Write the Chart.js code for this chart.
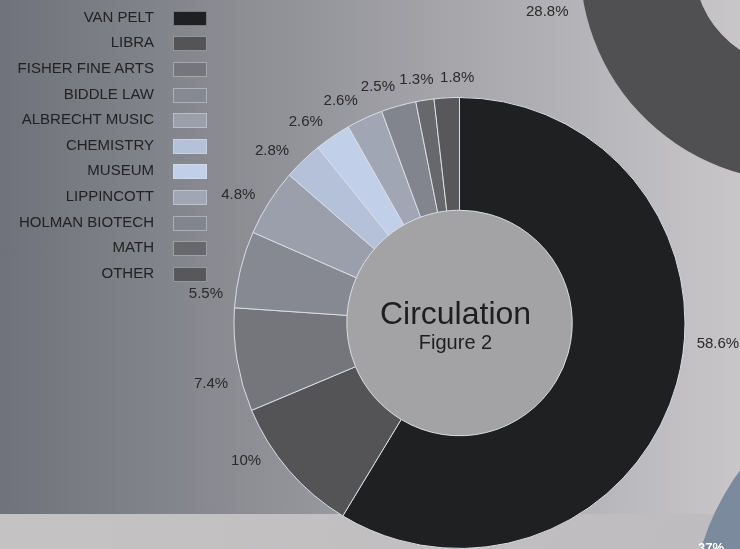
<!DOCTYPE html>
<html>
<head>
<meta charset="utf-8">
<title>Circulation - Figure 2</title>
<script src="https://cdn.jsdelivr.net/npm/chart.js@4.4.1/dist/chart.umd.min.js"></script>
<style>
    html, body {
        margin: 0;
        padding: 0;
        overflow: hidden;
    }

    #stage {
        position: relative;
        width: 740px;
        height: 549px;
        overflow: hidden;
        background: linear-gradient(to right, #6f727a 0%, #c8c6c9 100%);
        font-family: 'Liberation Sans', Arial, Helvetica, sans-serif;
    }

    .band {
        position: absolute;
        left: 0;
        top: 514px;
        width: 740px;
        height: 35px;
        background: linear-gradient(100deg, #c4c2c3, #bebcbe);
    }

    .chart-box {
        position: absolute;
    }

    .chart-box canvas {
        display: block;
    }

    #legend {
        position: absolute;
        left: 0;
        top: 5.5px;
        width: 208px;
    }

    .legend-row {
        display: flex;
        justify-content: flex-end;
        align-items: center;
        height: 25.6px;
    }

    .legend-row span {
        position: relative;
        top: -2px;
        font-size: 15px;
        color: #222;
    }

    .legend-row i {
        width: 32px;
        height: 13px;
        margin: 0 1px 0 19px;
        border: 1px solid rgba(225, 228, 235, 0.45);
    }

    .side-label {
        position: absolute;
        font-size: 15px;
        color: #2a2a2a;
    }
</style>
</head>
<body>
<div id="stage">
    <div class="band"></div>

    <div class="chart-box" style="left: 580px; top: -255px;">
        <canvas id="fig1-chart" width="436" height="436"></canvas>
    </div>
    <div class="chart-box" style="left: 691px; top: 369px;">
        <canvas id="fig3-chart" width="500" height="500"></canvas>
    </div>

    <div class="chart-box" style="left: 0; top: 0;">
        <canvas id="circ-chart" width="740" height="549"></canvas>
    </div>

    <div id="legend"></div>

    <div class="side-label" style="left: 526px; top: 2px;">28.8%</div>
    <div class="side-label" style="left: 698px; top: 540px; color: #fff; font-size: 13px; font-weight: bold;">37%</div>
</div>

<script>
    const branches = ['VAN PELT', 'LIBRA', 'FISHER FINE ARTS', 'BIDDLE LAW', 'ALBRECHT MUSIC', 'CHEMISTRY',
        'MUSEUM', 'LIPPINCOTT', 'HOLMAN BIOTECH', 'MATH', 'OTHER'];
    const circulationShare = [58.6, 10, 7.4, 5.5, 4.8, 2.8, 2.6, 2.6, 2.5, 1.3, 1.8];
    const branchColors = ['#1f2021', '#545456', '#75767b', '#868892', '#9a9fab', '#b4c1d8',
        '#c2cfe8', '#a0a6b3', '#82848e', '#67686c', '#58585b'];
    // how far each percentage label is turned away from its slice middle, in degrees
    const labelShiftDeg = [-11, 8, -4.3, -7.2, -2.2, -3.4, -3.1, -3.3, -3.4, -1.2, 2.7];

    // neighbouring figures that are cut by the page edge
    const figureOneShare = [28.8, 71.2];
    const figureThreeShare = [37, 63];

    const FONT = "'Liberation Sans', Arial, Helvetica, sans-serif";

    const circulationDecor = {
        id: 'circulationDecor',
        beforeDatasetsDraw(chart) {
            const arc = chart.getDatasetMeta(0).data[0];
            if (!arc) {
                return;
            }
            const { x, y, innerRadius } = arc.getProps(['x', 'y', 'innerRadius'], true);
            const ctx = chart.ctx;
            ctx.save();
            ctx.beginPath();
            ctx.arc(x, y, innerRadius, 0, Math.PI * 2);
            ctx.fillStyle = '#a3a3a6';
            ctx.fill();
            ctx.restore();
        },
        afterDatasetsDraw(chart) {
            const ctx = chart.ctx;
            const meta = chart.getDatasetMeta(0);
            const values = chart.data.datasets[0].data;

            ctx.save();
            ctx.font = `15px ${FONT}`;
            ctx.fillStyle = '#2a2a2a';
            ctx.textAlign = 'center';
            ctx.textBaseline = 'middle';

            meta.data.forEach((arc, i) => {
                const p = arc.getProps(['x', 'y', 'startAngle', 'endAngle', 'outerRadius'], true);
                const mid = (p.startAngle + p.endAngle) / 2 + (labelShiftDeg[i] || 0) * Math.PI / 180;
                const text = `${values[i]}%`;
                const w = ctx.measureText(text).width;
                const r = p.outerRadius + 12 + (w / 2) * Math.abs(Math.cos(mid)) + 7 * Math.abs(Math.sin(mid));
                ctx.fillText(text, p.x + Math.cos(mid) * r, p.y + Math.sin(mid) * r);
            });

            const first = meta.data[0];
            if (first) {
                const { x, y } = first.getProps(['x', 'y'], true);
                ctx.fillStyle = '#1e1e1e';
                ctx.textBaseline = 'alphabetic';
                ctx.font = `32px ${FONT}`;
                ctx.fillText('Circulation', x - 4, y + 1);
                ctx.font = `20px ${FONT}`;
                ctx.fillText('Figure 2', x - 4, y + 26);
            }
            ctx.restore();
        },
    };

    const staticOptions = (extra) => ({
        responsive: false,
        animation: false,
        events: [],
        plugins: {
            legend: { display: false },
            tooltip: { enabled: false },
        },
        ...extra,
    });

    const circulationChart = new Chart(document.getElementById('circ-chart'), {
        type: 'doughnut',
        data: {
            labels: branches,
            datasets: [{
                data: circulationShare,
                backgroundColor: branchColors,
                borderColor: '#d9dde5',
                borderWidth: 1,
            }],
        },
        options: staticOptions({
            cutout: '50%',
            layout: {
                padding: { left: 233, right: 54, top: 97, bottom: 0 },
            },
        }),
        plugins: [circulationDecor],
    });

    new Chart(document.getElementById('fig1-chart'), {
        type: 'doughnut',
        data: {
            labels: ['Figure 1 share', 'rest'],
            datasets: [{
                data: figureOneShare,
                backgroundColor: ['#505052', '#8d97a6'],
                borderWidth: 0,
            }],
        },
        options: staticOptions({ cutout: '48%', rotation: 175 }),
    });

    new Chart(document.getElementById('fig3-chart'), {
        type: 'doughnut',
        data: {
            labels: ['Figure 3 share', 'rest'],
            datasets: [{
                data: figureThreeShare,
                backgroundColor: ['#7b8a9c', '#5a5c60'],
                borderWidth: 0,
            }],
        },
        options: staticOptions({ cutout: '50%', rotation: 200 }),
    });

    const legend = document.getElementById('legend');
    const ds = circulationChart.data.datasets[0];
    circulationChart.data.labels.forEach((label, i) => {
        const row = document.createElement('div');
        row.className = 'legend-row';
        const text = document.createElement('span');
        text.textContent = label;
        const box = document.createElement('i');
        box.style.background = ds.backgroundColor[i];
        row.append(text, box);
        legend.appendChild(row);
    });
</script>
</body>
</html>
